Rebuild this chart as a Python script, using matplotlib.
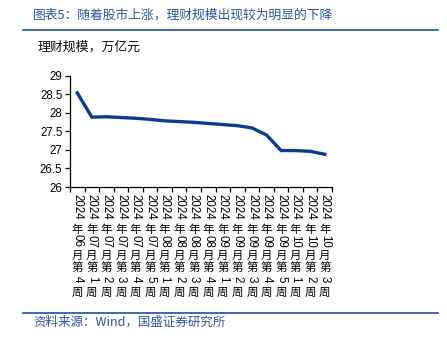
import matplotlib
matplotlib.use("Agg")
import matplotlib.pyplot as plt

# 理财规模（万亿元），按周
months = ['06', '07', '07', '07', '07', '07', '08', '08', '08', '08',
          '09', '09', '09', '09', '09', '10', '10', '10']
weeks = ['4', '1', '2', '3', '4', '5', '1', '2', '3', '4',
         '1', '2', '3', '4', '5', '1', '2', '3']
scale = [28.53, 27.88, 27.89, 27.87, 27.85, 27.82, 27.78, 27.76, 27.74, 27.71,
         27.68, 27.65, 27.59, 27.40, 26.98, 26.98, 26.96, 26.88]

CJK = ['Noto Sans CJK SC', 'DejaVu Sans']
LAT = ['Liberation Sans', 'Noto Sans CJK SC']
BLUE = '#0b3c8f'
HEAD = '#2a55a0'

fig = plt.figure(figsize=(4.47, 3.47), dpi=100)
fig.patch.set_facecolor('white')

# header / footer
fig.text(33 / 447, 1 - 15 / 347, '图表5：随着股市上涨，理财规模出现较为明显的下降',
         family=CJK, fontsize=9.2, color=HEAD, style='italic', ha='left', va='center')
fig.add_artist(plt.Line2D([23 / 447, 438 / 447], [1 - 30 / 347] * 2,
                          color='#2f5ca8', lw=1.3, transform=fig.transFigure))
fig.text(38 / 447, 1 - 47 / 347, '理财规模，万亿元', family=CJK, fontsize=9.3,
         color='#111111', ha='left', va='center')
fig.add_artist(plt.Line2D([23 / 447, 438 / 447], [1 - 313 / 347] * 2,
                          color='#2f5ca8', lw=1.3, transform=fig.transFigure))
fig.text(33 / 447, 1 - 322 / 347, '资料来源：Wind，国盛证券研究所',
         family=CJK, fontsize=9, color=HEAD, style='italic', ha='left', va='center')

ax = fig.add_axes([70 / 447, 160 / 347, 262 / 447, 111.5 / 347])
x = list(range(len(scale)))
ax.plot(x, scale, color=BLUE, lw=2.4, solid_joinstyle='round')

ax.set_ylim(26, 29)
ax.set_yticks([26, 26.5, 27, 27.5, 28, 28.5, 29])
ax.set_yticklabels(['26', '26.5', '27', '27.5', '28', '28.5', '29'])
ax.set_xlim(-0.5, len(scale) - 0.5)
ax.set_xticks([i - 0.5 for i in range(len(scale) + 1)])
ax.set_xticklabels([])
for s in ['top', 'right']:
    ax.spines[s].set_visible(False)
for s in ['left', 'bottom']:
    ax.spines[s].set_linewidth(0.9)
ax.tick_params(axis='both', direction='out', length=3.5, width=0.9, pad=2)
for lab in ax.get_yticklabels():
    lab.set_family(LAT)
    lab.set_fontsize(8.3)

# vertical category labels: digits rotated, CJK upright
xt = ax.get_xaxis_transform()
for i, (m, w) in enumerate(zip(months, weeks)):
    pieces = [('2024', -90, -19.5), ('年', 0, -42.5), (m, -90, -54),
              ('月', 0, -68), ('第', 0, -80), (w, -90, -92), ('周', 0, -105)]
    for s, rot, dy in pieces:
        ax.annotate(s, xy=(i, 0), xycoords=xt, xytext=(0, dy),
                    textcoords='offset pixels', rotation=rot,
                    ha='center', va='center', fontsize=8.3,
                    family=LAT if rot else CJK, color='black')

fig.savefig('out.png', dpi=100, facecolor='white')
